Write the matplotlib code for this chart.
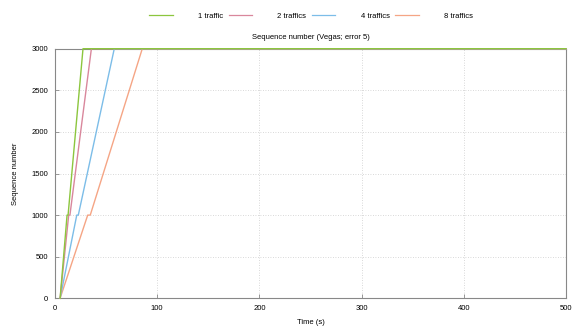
import matplotlib
matplotlib.use("Agg")
import matplotlib.pyplot as plt
from matplotlib.lines import Line2D

# Sequence number over time for each traffic count (Vegas, error 5)
labels = ["1 traffic", "2 traffics", "4 traffics", "8 traffics"]
colors = ["#8cc63e", "#d9879c", "#7cbde8", "#f5a585"]

t_1 = [5.0, 11.8, 12.8, 27.4, 500.0]
s_1 = [0, 1000, 1000, 3000, 3000]
t_2 = [5.0, 13.4, 14.6, 35.6, 500.0]
s_2 = [0, 1000, 1000, 3000, 3000]
t_4 = [5.0, 21.3, 22.8, 58.0, 500.0]
s_4 = [0, 1000, 1000, 3000, 3000]
t_8 = [5.0, 32.0, 34.5, 85.4, 500.0]
s_8 = [0, 1000, 1000, 3000, 3000]

series = [(t_1, s_1), (t_2, s_2), (t_4, s_4), (t_8, s_8)]

xticks = [0, 100, 200, 300, 400, 500]
yticks = [0, 500, 1000, 1500, 2000, 2500, 3000]

plt.rcParams["font.family"] = ["Liberation Sans", "DejaVu Sans"]

fig = plt.figure(figsize=(5.76, 3.27), dpi=100)
ax = fig.add_axes([55 / 576, 1 - 298.3 / 327, (566 - 55) / 576, (298.3 - 48.7) / 327])

for i in reversed(range(len(series))):
    t, s = series[i]
    ax.plot(t, s, color=colors[i], lw=1.0, clip_on=False,
            zorder=3 + (len(series) - i))

ax.set_xlim(0, 500)
ax.set_ylim(0, 3000)
ax.set_xticks(xticks)
ax.set_yticks(yticks)
ax.tick_params(labelsize=5.5, direction="in", length=3, width=0.6, color="#888888", pad=5)
ax.grid(True, color="#cccccc", linestyle=(0, (1, 2)), lw=0.6)
for sp in ax.spines.values():
    sp.set_color("#888888")
    sp.set_linewidth(0.8)

ax.set_xlabel("Time (s)", fontsize=5.5, labelpad=5)
ax.set_ylabel("Sequence number", fontsize=5.5, labelpad=9)
ax.set_title("Sequence number (Vegas; error 5)", fontsize=5.5, pad=7)

handles = [Line2D([], [], color=c, lw=0.9) for c in colors]
fig.legend(handles, labels, loc="center", bbox_to_anchor=(311 / 576, 1 - 16 / 327),
           ncol=4, frameon=False, fontsize=5.5, handlelength=3.1, handletextpad=3.3,
           columnspacing=0.7)

fig.savefig("out.png", dpi=100)
